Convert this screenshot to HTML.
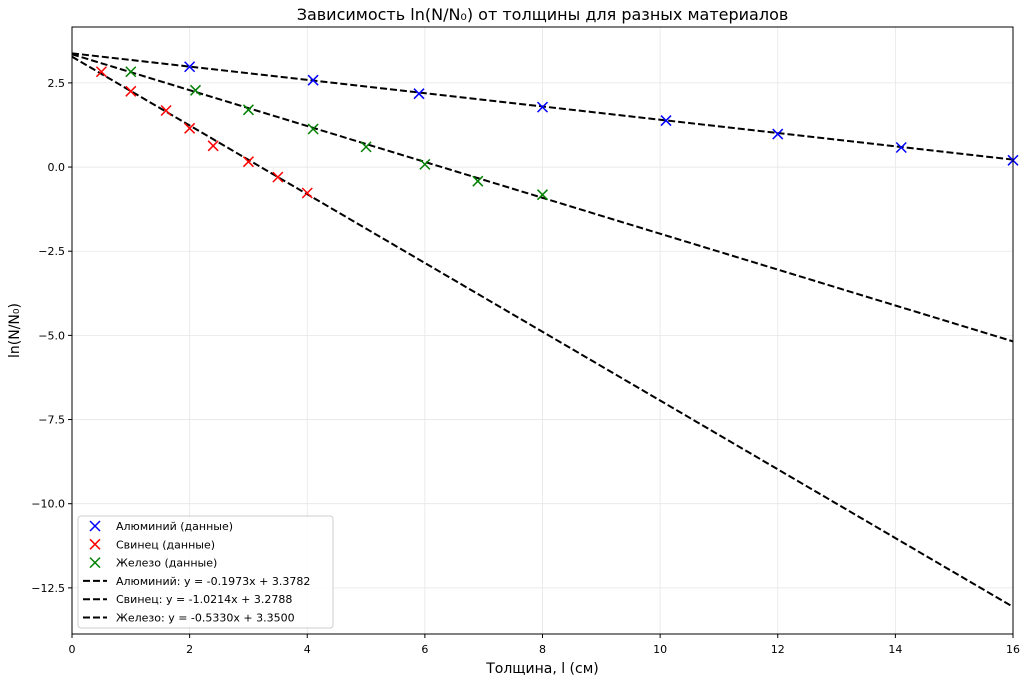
<!DOCTYPE html>
<html><head><meta charset="utf-8"><style>
body{margin:0;background:#fff;}
svg{font-family:"DejaVu Sans","Liberation Sans",sans-serif;}
</style></head><body>
<svg id="chart" width="1027" height="681" xmlns="http://www.w3.org/2000/svg"></svg>
<script>
const xTicks=[0,2,4,6,8,10,12,14,16];
const yTicks=[2.5,0,-2.5,-5,-7.5,-10,-12.5];
const yTickLabels=["2.5","0.0","\u22122.5","\u22125.0","\u22127.5","\u221210.0","\u221212.5"];
const alX=[2,4.1,5.9,8,10.1,12,14.1,16];
const alY=[2.98,2.58,2.18,1.78,1.38,0.98,0.58,0.2];
const pbX=[0.5,1,1.6,2,2.4,3,3.5,4];
const pbY=[2.83,2.25,1.68,1.15,0.63,0.16,-0.3,-0.77];
const feX=[1,2.1,3,4.1,5,6,6.9,8];
const feY=[2.83,2.28,1.7,1.13,0.6,0.08,-0.42,-0.82];
const slopes=[-0.1973,-1.0214,-0.5330];
const intercepts=[3.3782,3.2788,3.3500];
const legendLabels=["Алюминий (данные)","Свинец (данные)","Железо (данные)","Алюминий: y = -0.1973x + 3.3782","Свинец: y = -1.0214x + 3.2788","Железо: y = -0.5330x + 3.3500"];

const L=72,R=1013,T=27,B=634,xmin=0,xmax=16,ymin=-13.87,ymax=4.16;
const X=v=>L+(v-xmin)/(xmax-xmin)*(R-L);
const Y=v=>B-(v-ymin)/(ymax-ymin)*(B-T);
const svg=document.getElementById('chart');
const NS="http://www.w3.org/2000/svg";
function mk(tag,attrs,parent){const e=document.createElementNS(NS,tag);for(const k in attrs)e.setAttribute(k,attrs[k]);(parent||svg).appendChild(e);return e;}

xTicks.forEach(t=>{const g=mk('line',{x1:X(t),x2:X(t),y1:T,y2:B,stroke:'#e6e6e6','stroke-width':0.8});

});
yTicks.forEach(t=>{const g=mk('line',{x1:L,x2:R,y1:Y(t),y2:Y(t),stroke:'#e6e6e6','stroke-width':0.8});

});

const clip=mk('clipPath',{id:'cp'});mk('rect',{x:L,y:T,width:R-L,height:B-T},clip);
const fitNames=['fit-line-aluminum','fit-line-lead','fit-line-iron'];
slopes.forEach((m,i)=>{const l=mk('line',{x1:X(0),y1:Y(intercepts[i]),x2:X(16),y2:Y(intercepts[i]+m*16),stroke:'#000','stroke-width':2,'stroke-dasharray':'7,3','clip-path':'url(#cp)'});

});

function cross(cx,cy,col,parent){const g=mk('g',{},parent);const s=5;
mk('line',{x1:cx-s,y1:cy-s,x2:cx+s,y2:cy+s,stroke:col,'stroke-width':1.5},g);
mk('line',{x1:cx-s,y1:cy+s,x2:cx+s,y2:cy-s,stroke:col,'stroke-width':1.5},g);return g;}
[[alX,alY,'#0000ff','point-aluminum'],[pbX,pbY,'#ff0000','point-lead'],[feX,feY,'#008000','point-iron']].forEach(([xs,ys,c,n])=>{
xs.forEach((x,i)=>{const g=cross(X(x),Y(ys[i]),c);

});});

const fr=mk('rect',{x:L,y:T,width:R-L,height:B-T,fill:'none',stroke:'#000','stroke-width':1});



xTicks.forEach(t=>{mk('line',{x1:X(t),x2:X(t),y1:B,y2:B+4,stroke:'#000'});
const tx=mk('text',{x:X(t),y:B+19,'text-anchor':'middle','font-size':11});tx.textContent=t;

});
yTicks.forEach((t,i)=>{mk('line',{x1:L-4,x2:L,y1:Y(t),y2:Y(t),stroke:'#000'});
const tx=mk('text',{x:L-7,y:Y(t)+4,'text-anchor':'end','font-size':11});tx.textContent=yTickLabels[i];

});

let t=mk('text',{x:(L+R)/2,y:20,'text-anchor':'middle','font-size':16});t.textContent='Зависимость ln(N/N₀) от толщины для разных материалов';


t=mk('text',{x:(L+R)/2,y:673,'text-anchor':'middle','font-size':14});t.textContent='Толщина, l (см)';


t=mk('text',{x:19,y:(T+B)/2,'text-anchor':'middle','font-size':14,transform:`rotate(-90 19 ${(T+B)/2})`});t.textContent='ln(N/N₀)';



const lg=mk('g',{});


mk('rect',{x:78,y:516,width:255,height:112,fill:'#fff','fill-opacity':0.85,stroke:'#ccc',rx:3},lg);
const lcols=['#0000ff','#ff0000','#008000'];
legendLabels.forEach((s,i)=>{const y=526+i*18.3;const e=mk('g',{},lg);


if(i<3)cross(95,y,lcols[i],e);else mk('line',{x1:83,x2:107,y1:y,y2:y,stroke:'#000','stroke-width':2,'stroke-dasharray':'7,3'},e);
const tx=mk('text',{x:116,y:y+4,'font-size':11},e);tx.textContent=s;});
</script>
</body></html>
